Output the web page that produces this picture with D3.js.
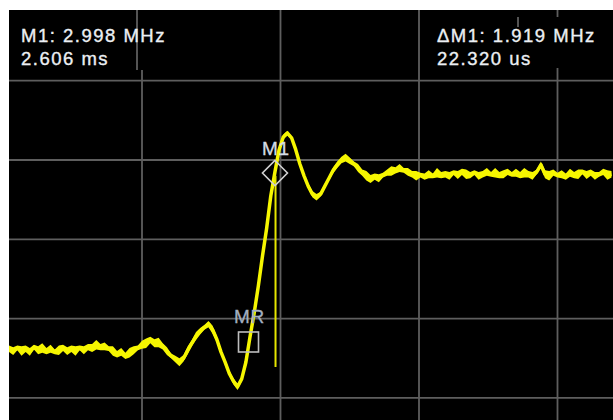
<!DOCTYPE html>
<html><head><meta charset="utf-8">
<script src="https://cdn.jsdelivr.net/npm/d3@7"></script>
<style>html,body{margin:0;padding:0;background:#fff;} svg{display:block}</style>
</head><body><svg id="c" width="613" height="420"></svg>
<script>
// ---- data (time in divisions, level in divisions) ----
const gridDivsX = [0, 1, 2, 3, 4, 5];
const gridDivsY = [0, 1, 2, 3, 4];
const traceStart = 0.04;
const traceStep = 0.03;
const traceLevel = [
  0.62,0.59,0.63,0.59,0.62,0.58,0.64,0.60,0.63,0.59,
  0.62,0.58,0.60,0.63,0.59,0.62,0.59,0.63,0.60,0.64,
  0.63,0.67,0.64,0.65,0.62,0.59,0.55,0.58,0.53,0.57,
  0.60,0.63,0.67,0.69,0.73,0.69,0.70,0.65,0.59,0.53,
  0.49,0.45,0.50,0.60,0.69,0.78,0.84,0.89,0.93,0.86,
  0.74,0.58,0.45,0.31,0.21,0.14,0.24,0.45,0.77,1.07,
  1.41,1.79,2.14,2.55,2.85,3.13,3.29,3.34,3.28,3.13,
  2.95,2.80,2.67,2.57,2.53,2.57,2.67,2.77,2.87,2.94,
  3.00,3.03,2.99,2.95,2.90,2.84,2.80,2.76,2.79,2.77,
  2.81,2.84,2.86,2.87,2.90,2.87,2.85,2.82,2.80,2.81,
  2.79,2.82,2.80,2.84,2.81,2.82,2.80,2.84,2.81,2.85,
  2.82,2.81,2.84,2.80,2.82,2.85,2.82,2.84,2.81,2.82,
  2.85,2.82,2.84,2.81,2.84,2.82,2.80,2.85,2.94,2.82,
  2.80,2.84,2.81,2.82,2.79,2.84,2.81,2.82,2.85,2.81,
  2.84,2.80,2.82,2.85,2.81,2.82
];
// half-height of the noise band around each sample, in hundredths of a division
const traceSpread = [
  4,5,3,6,4,5,3,5,6,4, 5,3,6,4,5,4,6,3,5,4,
  5,6,4,5,3,6,4,5,4,6, 5,3,5,6,4,5,6,4,5,3,
  4,5,4,5,4,5,4,3,4,5, 4,3,3,3,4,4,3,2,
  1,1,1,1,1,1,1,2,3,3,2,
  2,2,3,3,4,4,3,3,3,4,4,
  4,5,4,3,5,4,6,5,4,5, 3,4,6,4,5,3,5,4,6,3,
  4,5,3,6,4,4,5,3,5,4, 6,4,3,5,4,5,3,6,4,5,
  4,3,5,4,6,4,5,3,4,5, 6,4,3,5,4,5,4,6,3,5,
  4,5,3,4,6,4
];
const markerNames = ["M1", "MR"];
const markerTime = [1.960, 1.769];
const markerLevel = [2.836, 0.705];
const markerShape = ["diamond", "square"];
const spikeTime = 1.964;
const spikeLevels = [2.80, 0.39];
const readoutLeft = ["M1: 2.998 MHz", "2.606 ms"];
const readoutRight = ["\u0394M1: 1.919 MHz", "22.320 us"];

// ---- drawing ----
const svg = d3.select("#c");
const W = 613, H = 420;
const plot = {x0: 9, y0: 10, x1: W, y1: H};
const x = d3.scaleLinear().domain([0, 4]).range([3.5, 557.5]);
const y = d3.scaleLinear().domain([0, 5]).range([397.9, 1.4]);

svg.append("rect").attr("width", W).attr("height", H).attr("fill", "#fff");
svg.append("defs").append("clipPath").attr("id", "clip")
  .append("rect").attr("x", plot.x0).attr("y", plot.y0)
  .attr("width", plot.x1 - plot.x0).attr("height", plot.y1 - plot.y0);
svg.append("rect").attr("x", plot.x0).attr("y", plot.y0)
  .attr("width", plot.x1 - plot.x0).attr("height", plot.y1 - plot.y0).attr("fill", "#000");

const g = svg.append("g").attr("clip-path", "url(#clip)");
const gridColor = "#5e5e5e";
const grid = g.append("g").attr("stroke", gridColor).attr("stroke-width", 1.8);
grid.selectAll("line.h").data(gridDivsY).join("line").attr("class", "h")
  .attr("x1", plot.x0).attr("x2", plot.x1)
  .attr("y1", d => y(d)).attr("y2", d => y(d));
// vertical lines, partially hidden behind readout boxes
const vSegs = [];
gridDivsX.forEach(d => {
  if (d === 1) { vSegs.push([x(d), 70, H]); vSegs.push([x(d) - 5, plot.y0, 70]); }
  else if (d === 4) { vSegs.push([x(d), plot.y0, 17]); vSegs.push([x(d), 68, H]); vSegs.push([x(d) - 39.5, 17, 27]); }
  else vSegs.push([x(d), plot.y0, H]);
});
grid.selectAll("line.v").data(vSegs).join("line").attr("class", "v")
  .attr("x1", d => d[0]).attr("x2", d => d[0])
  .attr("y1", d => d[1]).attr("y2", d => d[2]);

// trace: noise band + centre line
const traceColor = "#f6f600";
const pts = traceLevel.map((v, i) => ({t: traceStart + i * traceStep, v, s: traceSpread[i] / 100}));
const band = d3.area()
  .x(d => x(d.t)).y0(d => y(d.v - d.s)).y1(d => y(d.v + d.s));
g.append("path").datum(pts).attr("d", band).attr("fill", traceColor);
const line = d3.line().x(d => x(d.t)).y(d => y(d.v));
g.append("path").datum(pts).attr("d", line)
  .attr("fill", "none").attr("stroke", traceColor).attr("stroke-width", 3.5)
  .attr("stroke-linejoin", "round");
// spike line
g.append("line").attr("x1", x(spikeTime)).attr("x2", x(spikeTime))
  .attr("y1", y(spikeLevels[0])).attr("y2", y(spikeLevels[1]))
  .attr("stroke", "#e6e600").attr("stroke-width", 2);

// markers
const font = "'Liberation Sans', Arial, sans-serif";
markerNames.forEach((name, i) => {
  const cx = x(markerTime[i]), cy = y(markerLevel[i]);
  if (markerShape[i] === "diamond") {
    const r = 12.5;
    g.append("path").attr("d", `M${cx},${cy - r}L${cx + r},${cy}L${cx},${cy + r}L${cx - r},${cy}Z`)
      .attr("fill", "none").attr("stroke", "#d0d0d0").attr("stroke-width", 1.6);
    g.append("text").attr("x", cx + 1).attr("y", cy - 18).attr("text-anchor", "middle")
      .attr("font-family", font).attr("font-size", 19).attr("letter-spacing", 0.8)
      .attr("fill", "#d3dbe6").attr("stroke", "#d3dbe6").attr("stroke-width", 0.3).text(name);
  } else {
    const s = 10;
    g.append("rect").attr("x", cx - s).attr("y", cy - s).attr("width", 2 * s).attr("height", 2 * s)
      .attr("fill", "none").attr("stroke", "#bdbdbd").attr("stroke-width", 1.6);
    g.append("text").attr("x", cx + 1).attr("y", cy - 19).attr("text-anchor", "middle")
      .attr("font-family", font).attr("font-size", 19).attr("letter-spacing", 0.8)
      .attr("fill", "#a3afc0").attr("stroke", "#a3afc0").attr("stroke-width", 0.3).text(name);
  }
});

// readouts
function readout(lines, x0) {
  svg.selectAll(null).data(lines).join("text")
    .attr("x", x0).attr("y", (d, i) => 42 + i * 23)
    .attr("font-family", font).attr("font-size", 18.5).attr("letter-spacing", 1.5)
    .attr("fill", "#eceff3").attr("stroke", "#eceff3").attr("stroke-width", 0.35).text(d => d);
}
readout(readoutLeft, 21);
readout(readoutRight, 437);
</script></body></html>
